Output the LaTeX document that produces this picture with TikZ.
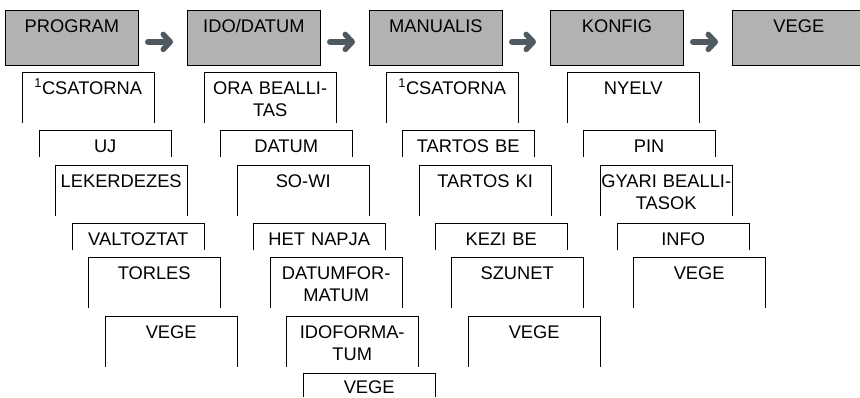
\documentclass[tikz,border=0pt]{standalone}
\usepackage{fontspec}
\setmainfont{Liberation Sans}
\usetikzlibrary{arrows.meta}
\definecolor{navgray}{HTML}{4F5A60}
\tikzset{top/.style={draw, fill=gray!60, anchor=north west, minimum width=133, text width=133, align=center, inner sep=0, text height=22, text depth=33, line width=0.8},
            hi/.style={anchor=north west, text width=132, align=center, inner sep=0, text height=22, text depth=29},
            lo/.style={hi, text depth=5},
            nav/.style={-{Straight Barb[length=7, width=15, round]}, line width=5.5, color=navgray, line cap=round, shorten <=9, shorten >=14}}

\begin{document}
\begin{tikzpicture}[x=1pt, y=-1pt, font=\fontsize{18.3}{22.7}\selectfont]
\clip (0,0) rectangle (860,397);
% main menu
\node[top] at (5,10)(prog){PROGRAM};
\node[top] at (187,10)(ido){IDO/DATUM};
\node[top] at (369,10)(man){MANUALIS};
\node[top] at (550,10)(konf){KONFIG};
\node[top] at (732,10)(vege){VEGE};
\foreach \a/\b in {prog/ido, ido/man, man/konf, konf/vege}
  \draw[nav] ([yshift=-4]\a.east) -- ([yshift=-4]\b.west);
% PROGRAM
\node[hi] at (22,72)(p1){\textsuperscript{1}CSATORNA};
\node[lo] at (39,130)(p2){UJ};
\node[hi] at (55,165)(p3){LEKERDEZES};
\node[lo] at (72,223)(p4){VALTOZTAT};
\node[hi] at (88,257)(p5){TORLES};
\node[hi] at (105,316)(p6){VEGE};
% IDO/DATUM
\node[hi] at (204,72)(i1){ORA BEALLI-\\TAS};
\node[lo] at (220,130)(i2){DATUM};
\node[hi] at (237,165)(i3){SO-WI};
\node[lo] at (253,223)(i4){HET NAPJA};
\node[hi] at (270,257)(i5){DATUMFOR-\\MATUM};
\node[hi] at (286,316)(i6){IDOFORMA-\\TUM};
\node[hi, text height=20, text depth=4] at (303,373)(i7){VEGE};
% MANUALIS
\node[hi] at (386,72)(m1){\textsuperscript{1}CSATORNA};
\node[lo] at (402,130)(m2){TARTOS BE};
\node[hi] at (419,165)(m3){TARTOS KI};
\node[lo] at (435,223)(m4){KEZI BE};
\node[hi] at (451,257)(m5){SZUNET};
\node[hi] at (468,316)(m6){VEGE};
% KONFIG
\node[hi] at (567,72)(k1){NYELV};
\node[lo] at (583,130)(k2){PIN};
\node[hi] at (600,165)(k3){GYARI BEALLI-\\TASOK};
\node[lo] at (617,223)(k4){INFO};
\node[hi] at (633,257)(k5){VEGE};
\foreach \n in {p1,p2,p3,p4,p5,p6,i1,i2,i3,i4,i5,i6,i7,m1,m2,m3,m4,m5,m6,k1,k2,k3,k4,k5}
  \draw[line width=0.8] (\n.south west) |- (\n.north east) -- (\n.south east);
\end{tikzpicture}
\end{document}
